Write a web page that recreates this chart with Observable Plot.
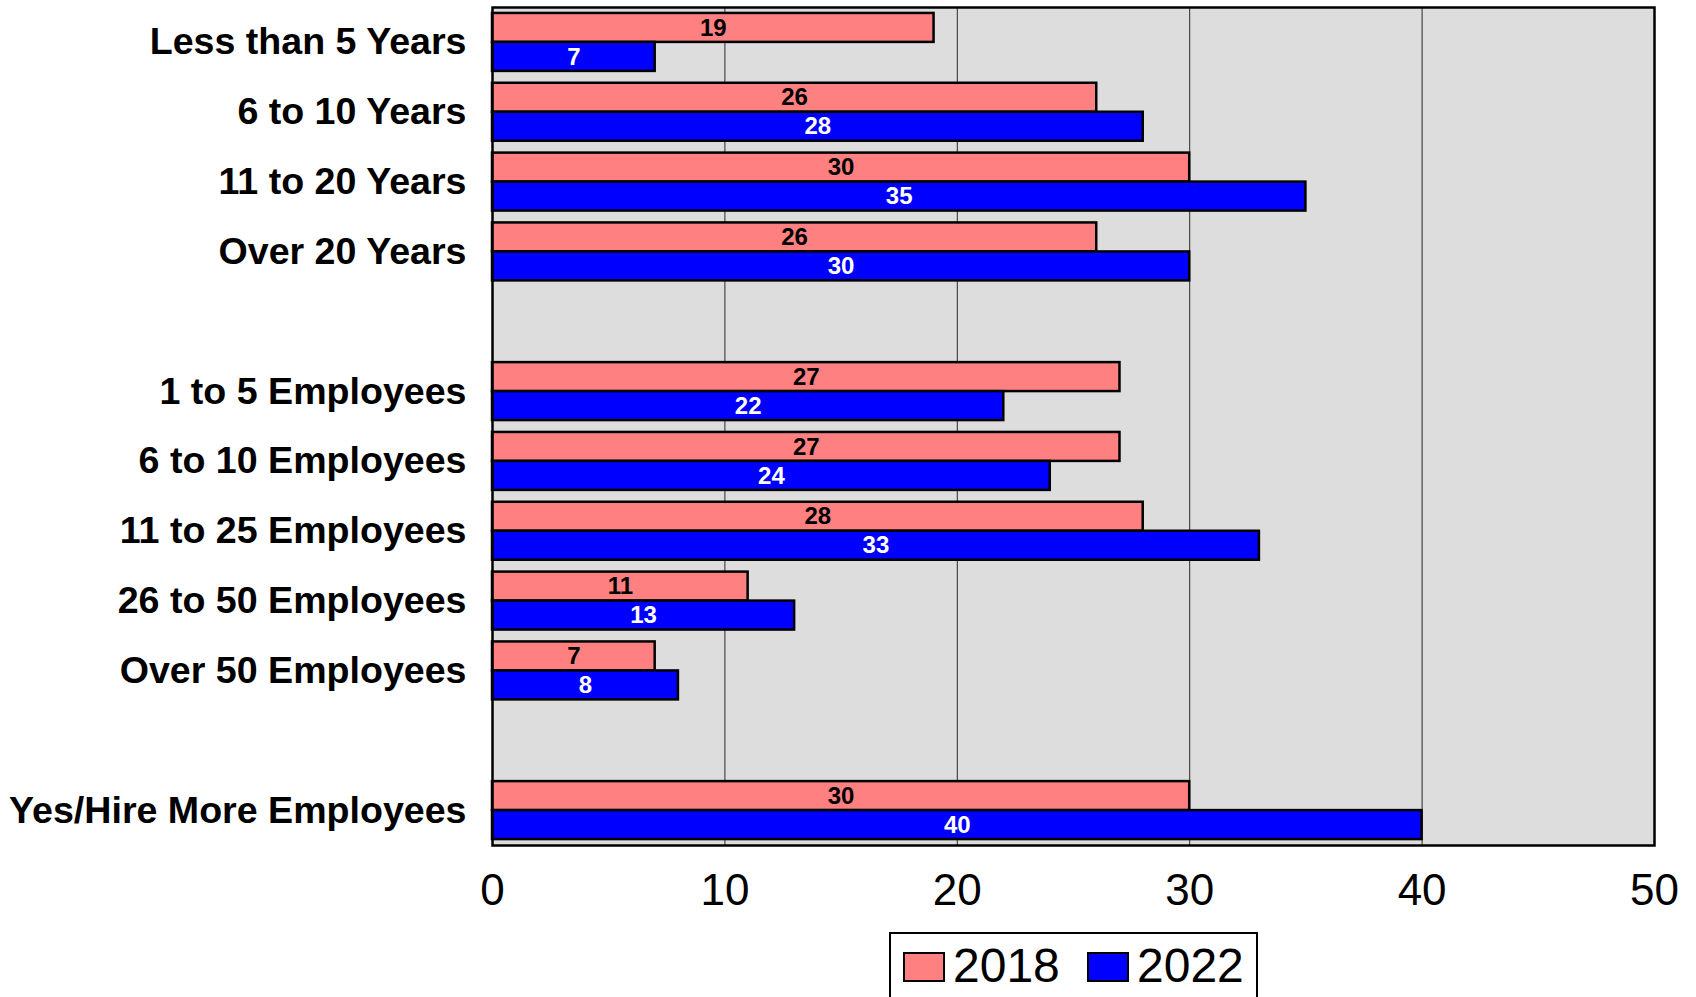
<!DOCTYPE html>
<html>
<head>
<meta charset="utf-8">
<script src="https://cdn.jsdelivr.net/npm/d3@7"></script>
<script src="https://cdn.jsdelivr.net/npm/@observablehq/plot@0.6"></script>
<style>
  html, body { margin: 0; padding: 0; background: #fff; overflow: hidden; }
  body { font-family: "Liberation Sans", Arial, sans-serif; width: 1696px; height: 997px; position: relative; }
  #legend { position: absolute; left: 889px; top: 932px; width: 369px; height: 90px; box-sizing: border-box; border: 2px solid #000; background: #fff; }
  .sw { position: absolute; top: 18px; width: 42px; height: 30px; box-sizing: border-box; border: 2px solid #000; }
  .lt { position: absolute; top: 8px; font-size: 48px; line-height: 48px; color: #000; white-space: nowrap; }
</style>
</head>
<body>
<div id="chart"></div>
<div id="legend"></div>
<script>
// ---- data ----
const categories = [
  "Less than 5 Years", "6 to 10 Years", "11 to 20 Years", "Over 20 Years",
  "1 to 5 Employees", "6 to 10 Employees", "11 to 25 Employees", "26 to 50 Employees", "Over 50 Employees",
  "Yes/Hire More Employees"
];
const values2018 = [19, 26, 30, 26, 27, 27, 28, 11, 7, 30];
const values2022 = [7, 28, 35, 30, 22, 24, 33, 13, 8, 40];
const seriesNames = ["2018", "2022"];
const seriesColors = ["#FF8080", "#0000FF"];
const labelColors = ["#000000", "#FFFFFF"];
const xTicks = [0, 10, 20, 30, 40, 50];
const gridTicks = [10, 20, 30, 40];

// y domain with blank spacer rows between groups
const gapA = "\u2002", gapB = "\u2003";
const yDomain = [...categories.slice(0, 4), gapA, ...categories.slice(4, 9), gapB, categories[9]];

const rows2018 = categories.map((c, i) => ({category: c, value: values2018[i]}));
const rows2022 = categories.map((c, i) => ({category: c, value: values2022[i]}));

const W = 1696, H = 925;
const half = 29;

const plot = Plot.plot({
  width: W,
  height: H,
  marginLeft: 492,
  marginRight: 42,
  marginTop: 7,
  marginBottom: H - 845,
  style: {fontFamily: "'Liberation Sans', Arial, sans-serif", background: "#fff", color: "#000", overflow: "visible"},
  x: {domain: [0, 50]},
  y: {domain: yDomain, paddingInner: 0.17, paddingOuter: 0.085, round: false},
  marks: [
    Plot.frame({fill: "#DDDDDD", stroke: null}),
    Plot.ruleX(gridTicks, {stroke: "#2a2a2a", strokeWidth: 1}),
    Plot.barX(rows2018, {x: "value", y: "category", fill: seriesColors[0], stroke: "#000", strokeWidth: 2.5, insetBottom: half}),
    Plot.barX(rows2022, {x: "value", y: "category", fill: seriesColors[1], stroke: "#000", strokeWidth: 2.5, insetTop: half}),
    Plot.text(rows2018, {x: d => d.value / 2, y: "category", text: d => String(d.value), dy: -half / 2, fill: labelColors[0], fontSize: 24, fontWeight: "bold"}),
    Plot.text(rows2022, {x: d => d.value / 2, y: "category", text: d => String(d.value), dy: half / 2, fill: labelColors[1], fontSize: 24, fontWeight: "bold"}),
    Plot.frame({stroke: "#000", strokeWidth: 2.5}),
    Plot.axisX({ticks: xTicks, tickSize: 0, tickPadding: 28, fontSize: 44, label: null, tickFormat: d => String(d)}),
    Plot.axisY({tickSize: 0, tickPadding: 26, fontSize: 37.6, fontWeight: "bold", label: null})
  ]
});
document.getElementById("chart").appendChild(plot);

// legend
const legend = document.getElementById("legend");
const swLeft = [12, 196], txLeft = [62, 246];
seriesNames.forEach((name, i) => {
  const sw = document.createElement("div");
  sw.className = "sw";
  sw.style.left = swLeft[i] + "px";
  sw.style.background = seriesColors[i];
  legend.appendChild(sw);
  const t = document.createElement("div");
  t.className = "lt";
  t.style.left = txLeft[i] + "px";
  t.textContent = name;
  legend.appendChild(t);
});
</script>
</body>
</html>
